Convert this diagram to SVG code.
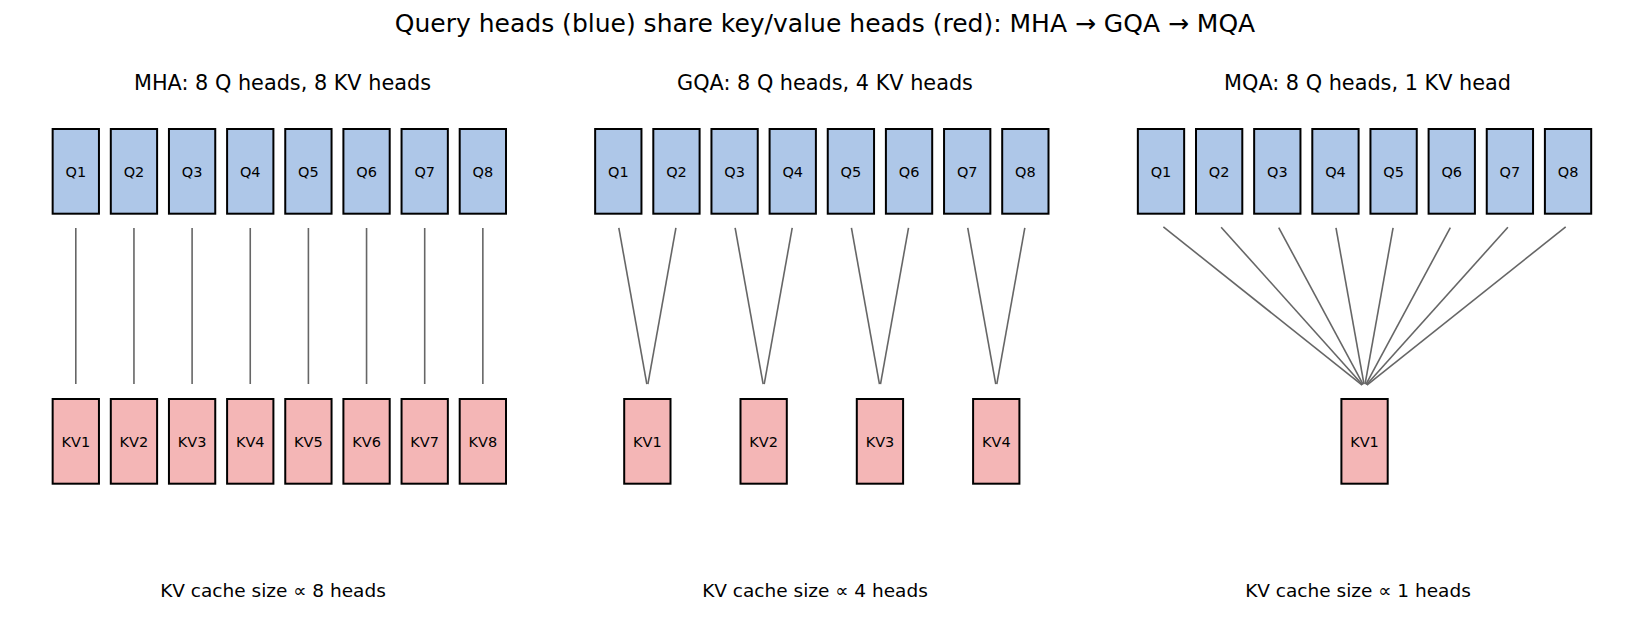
<svg xmlns="http://www.w3.org/2000/svg" width="1650" height="630" viewBox="0 0 1650 630">
<style>
text{font-family:"DejaVu Sans","Liberation Sans",sans-serif;fill:#000;text-anchor:middle}
.title{font-size:25px}
.sub{font-size:20.8px}
.foot{font-size:18.5px}
.lbl{font-size:14.5px}
.q rect{fill:#aec7e8;stroke:#000;stroke-width:2}
.kv rect{fill:#f4b6b6;stroke:#000;stroke-width:2}
#connectors line{stroke:#666;stroke-width:1.6;fill:none}
</style>
<rect width="1650" height="630" fill="#fff"/>
<text class="title" x="825" y="32">Query heads (blue) share key/value heads (red): MHA → GQA → MQA</text>
<text class="sub" x="282.5" y="89.5">MHA: 8 Q heads, 8 KV heads</text>
<text class="sub" x="825" y="89.5">GQA: 8 Q heads, 4 KV heads</text>
<text class="sub" x="1367.5" y="89.5">MQA: 8 Q heads, 1 KV head</text>
<text class="foot" x="273" y="597">KV cache size ∝ 8 heads</text>
<text class="foot" x="815" y="597">KV cache size ∝ 4 heads</text>
<text class="foot" x="1358" y="597">KV cache size ∝ 1 heads</text>

<g id="connectors">
<line x1="75.8" y1="228" x2="75.8" y2="384"/>
<line x1="133.95" y1="228" x2="133.95" y2="384"/>
<line x1="192.1" y1="228" x2="192.1" y2="384"/>
<line x1="250.25" y1="228" x2="250.25" y2="384"/>
<line x1="308.4" y1="228" x2="308.4" y2="384"/>
<line x1="366.55" y1="228" x2="366.55" y2="384"/>
<line x1="424.7" y1="228" x2="424.7" y2="384"/>
<line x1="482.85" y1="228" x2="482.85" y2="384"/>

<line x1="618.83" y1="227.95" x2="646.85" y2="384.05"/>
<line x1="675.92" y1="227.95" x2="647.9" y2="384.05"/>
<line x1="735.13" y1="227.95" x2="763.15" y2="384.05"/>
<line x1="792.22" y1="227.95" x2="764.2" y2="384.05"/>
<line x1="851.43" y1="227.95" x2="879.45" y2="384.05"/>
<line x1="908.52" y1="227.95" x2="880.5" y2="384.05"/>
<line x1="967.73" y1="227.95" x2="995.75" y2="384.05"/>
<line x1="1024.82" y1="227.95" x2="996.8" y2="384.05"/>

<line x1="1163.35" y1="226.87" x2="1362.15" y2="385.13"/>
<line x1="1221.15" y1="227.23" x2="1362.5" y2="384.77"/>
<line x1="1278.72" y1="227.64" x2="1363.08" y2="384.36"/>
<line x1="1335.98" y1="227.95" x2="1364.0" y2="384.05"/>
<line x1="1393.07" y1="227.95" x2="1365.05" y2="384.05"/>
<line x1="1450.33" y1="227.64" x2="1365.95" y2="384.36"/>
<line x1="1507.9" y1="227.23" x2="1366.5" y2="384.77"/>
<line x1="1565.7" y1="226.87" x2="1366.9" y2="385.13"/>
</g>

<!-- MHA -->
<g id="mha-q1" class="q"><rect x="52.65" y="129" width="46.3" height="84.7"/><text class="lbl" x="75.8" y="176.6">Q1</text></g>
<g id="mha-q2" class="q"><rect x="110.8" y="129" width="46.3" height="84.7"/><text class="lbl" x="133.95" y="176.6">Q2</text></g>
<g id="mha-q3" class="q"><rect x="168.95" y="129" width="46.3" height="84.7"/><text class="lbl" x="192.1" y="176.6">Q3</text></g>
<g id="mha-q4" class="q"><rect x="227.1" y="129" width="46.3" height="84.7"/><text class="lbl" x="250.25" y="176.6">Q4</text></g>
<g id="mha-q5" class="q"><rect x="285.25" y="129" width="46.3" height="84.7"/><text class="lbl" x="308.4" y="176.6">Q5</text></g>
<g id="mha-q6" class="q"><rect x="343.4" y="129" width="46.3" height="84.7"/><text class="lbl" x="366.55" y="176.6">Q6</text></g>
<g id="mha-q7" class="q"><rect x="401.55" y="129" width="46.3" height="84.7"/><text class="lbl" x="424.7" y="176.6">Q7</text></g>
<g id="mha-q8" class="q"><rect x="459.7" y="129" width="46.3" height="84.7"/><text class="lbl" x="482.85" y="176.6">Q8</text></g>
<g id="mha-kv1" class="kv"><rect x="52.65" y="399" width="46.3" height="84.7"/><text class="lbl" x="75.8" y="446.8">KV1</text></g>
<g id="mha-kv2" class="kv"><rect x="110.8" y="399" width="46.3" height="84.7"/><text class="lbl" x="133.95" y="446.8">KV2</text></g>
<g id="mha-kv3" class="kv"><rect x="168.95" y="399" width="46.3" height="84.7"/><text class="lbl" x="192.1" y="446.8">KV3</text></g>
<g id="mha-kv4" class="kv"><rect x="227.1" y="399" width="46.3" height="84.7"/><text class="lbl" x="250.25" y="446.8">KV4</text></g>
<g id="mha-kv5" class="kv"><rect x="285.25" y="399" width="46.3" height="84.7"/><text class="lbl" x="308.4" y="446.8">KV5</text></g>
<g id="mha-kv6" class="kv"><rect x="343.4" y="399" width="46.3" height="84.7"/><text class="lbl" x="366.55" y="446.8">KV6</text></g>
<g id="mha-kv7" class="kv"><rect x="401.55" y="399" width="46.3" height="84.7"/><text class="lbl" x="424.7" y="446.8">KV7</text></g>
<g id="mha-kv8" class="kv"><rect x="459.7" y="399" width="46.3" height="84.7"/><text class="lbl" x="482.85" y="446.8">KV8</text></g>

<!-- GQA -->
<g id="gqa-q1" class="q"><rect x="595.15" y="129" width="46.3" height="84.7"/><text class="lbl" x="618.3" y="176.6">Q1</text></g>
<g id="gqa-q2" class="q"><rect x="653.3" y="129" width="46.3" height="84.7"/><text class="lbl" x="676.45" y="176.6">Q2</text></g>
<g id="gqa-q3" class="q"><rect x="711.45" y="129" width="46.3" height="84.7"/><text class="lbl" x="734.6" y="176.6">Q3</text></g>
<g id="gqa-q4" class="q"><rect x="769.6" y="129" width="46.3" height="84.7"/><text class="lbl" x="792.75" y="176.6">Q4</text></g>
<g id="gqa-q5" class="q"><rect x="827.75" y="129" width="46.3" height="84.7"/><text class="lbl" x="850.9" y="176.6">Q5</text></g>
<g id="gqa-q6" class="q"><rect x="885.9" y="129" width="46.3" height="84.7"/><text class="lbl" x="909.05" y="176.6">Q6</text></g>
<g id="gqa-q7" class="q"><rect x="944.05" y="129" width="46.3" height="84.7"/><text class="lbl" x="967.2" y="176.6">Q7</text></g>
<g id="gqa-q8" class="q"><rect x="1002.2" y="129" width="46.3" height="84.7"/><text class="lbl" x="1025.35" y="176.6">Q8</text></g>
<g id="gqa-kv1" class="kv"><rect x="624.2" y="399" width="46.3" height="84.7"/><text class="lbl" x="647.4" y="446.8">KV1</text></g>
<g id="gqa-kv2" class="kv"><rect x="740.5" y="399" width="46.3" height="84.7"/><text class="lbl" x="763.7" y="446.8">KV2</text></g>
<g id="gqa-kv3" class="kv"><rect x="856.8" y="399" width="46.3" height="84.7"/><text class="lbl" x="880" y="446.8">KV3</text></g>
<g id="gqa-kv4" class="kv"><rect x="973.1" y="399" width="46.3" height="84.7"/><text class="lbl" x="996.3" y="446.8">KV4</text></g>

<!-- MQA -->
<g id="mqa-q1" class="q"><rect x="1137.85" y="129" width="46.3" height="84.7"/><text class="lbl" x="1161" y="176.6">Q1</text></g>
<g id="mqa-q2" class="q"><rect x="1196" y="129" width="46.3" height="84.7"/><text class="lbl" x="1219.15" y="176.6">Q2</text></g>
<g id="mqa-q3" class="q"><rect x="1254.15" y="129" width="46.3" height="84.7"/><text class="lbl" x="1277.3" y="176.6">Q3</text></g>
<g id="mqa-q4" class="q"><rect x="1312.3" y="129" width="46.3" height="84.7"/><text class="lbl" x="1335.45" y="176.6">Q4</text></g>
<g id="mqa-q5" class="q"><rect x="1370.45" y="129" width="46.3" height="84.7"/><text class="lbl" x="1393.6" y="176.6">Q5</text></g>
<g id="mqa-q6" class="q"><rect x="1428.6" y="129" width="46.3" height="84.7"/><text class="lbl" x="1451.75" y="176.6">Q6</text></g>
<g id="mqa-q7" class="q"><rect x="1486.75" y="129" width="46.3" height="84.7"/><text class="lbl" x="1509.9" y="176.6">Q7</text></g>
<g id="mqa-q8" class="q"><rect x="1544.9" y="129" width="46.3" height="84.7"/><text class="lbl" x="1568.05" y="176.6">Q8</text></g>
<g id="mqa-kv1" class="kv"><rect x="1341.4" y="399" width="46.3" height="84.7"/><text class="lbl" x="1364.5" y="446.8">KV1</text></g>
</svg>
